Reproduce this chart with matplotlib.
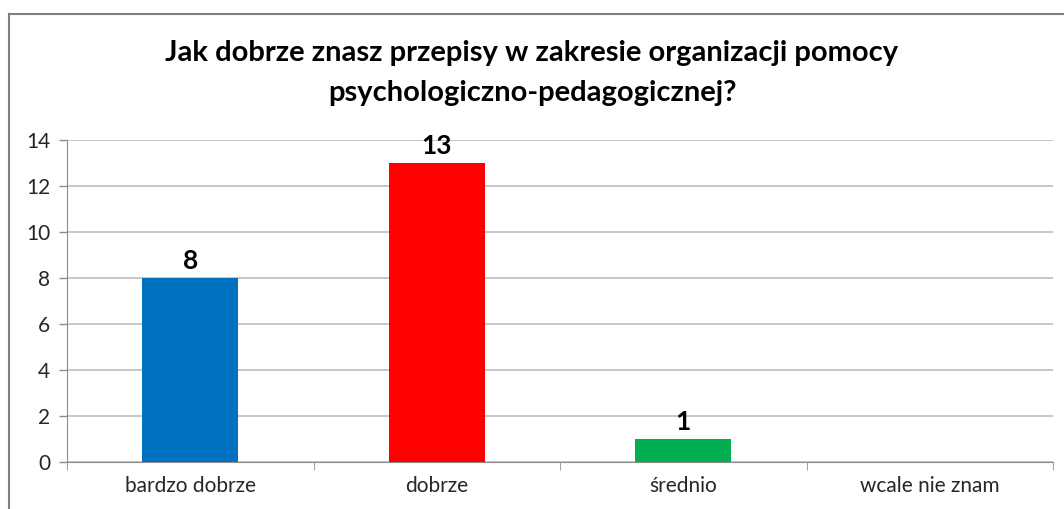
import matplotlib.pyplot as plt
import numpy as np
from matplotlib.lines import Line2D

categories = ["bardzo dobrze", "dobrze", "średnio", "wcale nie znam"]
values = [8, 13, 1, 0]
colors = ["#0070C0", "#FF0000", "#00B050", "#7030A0"]
title = "Jak dobrze znasz przepisy w zakresie organizacji pomocy\npsychologiczno-pedagogicznej?"

plt.rcParams["font.family"] = ["Lato", "DejaVu Sans"]

W, H = 1064, 509
fig = plt.figure(figsize=(W / 100, H / 100), dpi=100)
ax = fig.add_axes([67 / W, 1 - 462 / H, (1053 - 67) / W, (462 - 140) / H])

x = np.arange(len(categories))
ax.bar(x, values, width=0.39, color=colors, zorder=3)
for xi, v in zip(x, values):
    if v > 0:
        ax.text(xi, v + 0.2, str(v), ha="center", va="bottom", fontsize=19, fontweight="bold")

ax.set_xlim(-0.5, len(categories) - 0.5)
ax.set_ylim(0, 14)
ax.set_yticks(range(0, 15, 2))
ax.set_xticks(x)
ax.set_xticklabels(categories, fontsize=15, color="#262626")
ax.tick_params(axis="y", labelsize=15, colors="#262626", length=6, width=1, color="#8C8C8C", pad=6)
ax.tick_params(axis="x", length=0, pad=10)
ax.set_xticks(np.arange(-0.5, len(categories)), minor=True)
ax.tick_params(axis="x", which="minor", length=6, color="#8C8C8C")
ax.grid(axis="y", color="#BFBFBF", linewidth=1.2, zorder=0)
for side in ("top", "right"):
    ax.spines[side].set_visible(False)
for side in ("left", "bottom"):
    ax.spines[side].set_color("#8C8C8C")

fig.text(0.5, 1 - 73 / H, title, ha="center", va="center", fontsize=21, fontweight="bold",
         linespacing=1.65)

# outer chart border (cropped on right/bottom)
fig.add_artist(Line2D([8.5 / W, 8.5 / W], [0, 1 - 14 / H], color="#808080", linewidth=1.5))
fig.add_artist(Line2D([8.5 / W, 1], [1 - 14 / H, 1 - 14 / H], color="#808080", linewidth=1.5))

fig.savefig("out.png", dpi=100)
